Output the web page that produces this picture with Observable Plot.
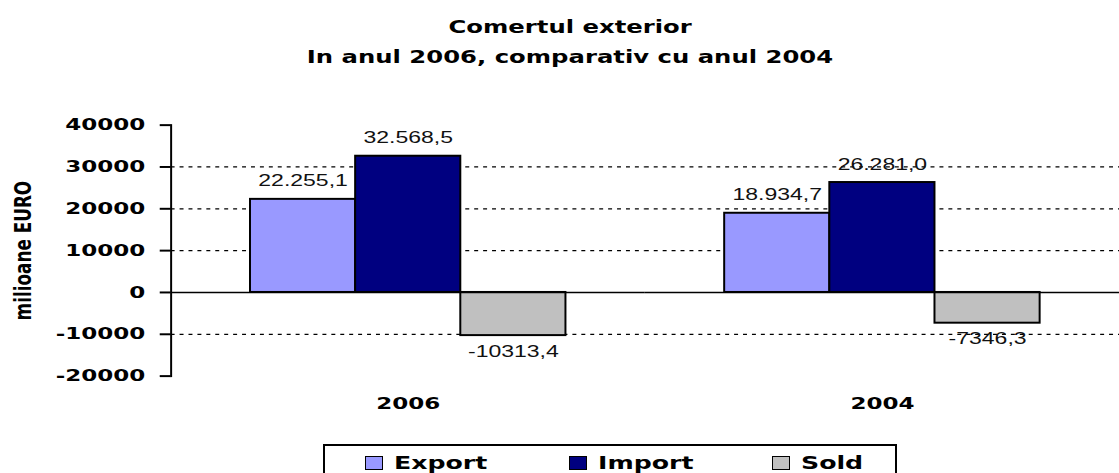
<!DOCTYPE html>
<html>
<head>
<meta charset="utf-8">
<script src="https://cdn.jsdelivr.net/npm/d3@7"></script>
<script src="https://cdn.jsdelivr.net/npm/@observablehq/plot@0.6"></script>
<style>
  html, body { margin: 0; padding: 0; background: #fff; width: 1119px; height: 473px; overflow: hidden; position: relative; }
  #title { position: absolute; left: 0; top: 12px; width: 1140px; text-align: center; font-family: "DejaVu Sans", sans-serif; font-weight: bold; font-size: 18px; line-height: 30px; color: #000; }
  #title span { display: inline-block; transform: scaleX(1.35); }
  #chart { position: absolute; left: 0; top: 80px; }
  #legend { position: absolute; left: 323px; top: 444px; width: 574px; height: 40px; border: 2px solid #000; box-sizing: border-box; }
  .item { position: absolute; top: 8px; display: flex; align-items: center; }
  .sw { width: 16px; height: 12px; border: 1px solid #000; box-sizing: content-box; }
  .lt { display: inline-block; margin-left: 11px; font-family: "DejaVu Sans", sans-serif; font-weight: bold; font-size: 18px; line-height: 18px; transform: scaleX(1.4); transform-origin: left center; }
</style>
</head>
<body>
<div id="title"><span>Comertul exterior</span><br><span>In anul 2006, comparativ cu anul 2004</span></div>
<div id="chart"></div>
<div id="legend"></div>
<script>
const years = ["2006", "2004"];
const series = ["Export", "Import", "Sold"];
const colors = ["#9999ff", "#000080", "#c0c0c0"];
const exportValues = [22255.1, 18934.7];
const importValues = [32568.5, 26281.0];
const soldValues = [-10313.4, -7346.3];
const exportLabels = ["22.255,1", "18.934,7"];
const importLabels = ["32.568,5", "26.281,0"];
const soldLabels = ["-10313,4", "-7346,3"];
const yTicks = [-20000, -10000, 0, 10000, 20000, 30000, 40000];
const yTickLabels = ["-20000", "-10000", "0", "10000", "20000", "30000", "40000"];
const gridValues = [-10000, 10000, 20000, 30000];
const yTitle = "milioane EURO";

const valuesBySeries = [exportValues, importValues, soldValues];
const labelsBySeries = [exportLabels, importLabels, soldLabels];
const data = [];
years.forEach((yr, yi) => series.forEach((s, si) => {
  data.push({year: yr, series: s, value: valuesBySeries[si][yi], label: labelsBySeries[si][yi]});
}));

const heavy = "DejaVu Sans, sans-serif";
const plot = Plot.plot({
  width: 1128,
  height: 350,
  marginLeft: 171,
  marginRight: 0,
  marginTop: 45,
  marginBottom: 52,
  style: {fontFamily: heavy, overflow: "visible", background: "transparent"},
  fx: {domain: years, paddingInner: 0, paddingOuter: 0, axis: null},
  x: {domain: series, paddingInner: 0, paddingOuter: 0.75, axis: null},
  y: {domain: [-20000, 40000], axis: null},
  color: {domain: series, range: colors},
  marks: [
    Plot.ruleY(gridValues, {stroke: "#000", strokeWidth: 1.2, strokeDasharray: "4,5"}),
    Plot.barY(data, {fx: "year", x: "series", y: "value", fill: "series", stroke: "#000", strokeWidth: 2}),
    Plot.ruleY([0], {stroke: "#000", strokeWidth: 1.5}),
    Plot.text(data.filter(d => d.value >= 0), {fx: "year", x: "series", y: "value", text: "label", lineAnchor: "bottom", dy: -13, fontFamily: "Liberation Sans, Arial, sans-serif", fontSize: 16, fill: "#111"}),
    Plot.text(data.filter(d => d.value < 0), {fx: "year", x: "series", y: "value", text: "label", lineAnchor: "top", dy: 10, fontFamily: "Liberation Sans, Arial, sans-serif", fontSize: 16, fill: "#111"}),
    Plot.frame({anchor: "left", facetAnchor: "left", stroke: "#000", strokeWidth: 2}),
    Plot.axisY({ticks: yTicks, tickSize: 11, tickPadding: 15, strokeWidth: 2, tickFormat: d => yTickLabels[yTicks.indexOf(d)], fontSize: 16, fontWeight: "bold", fill: "#000", label: yTitle, labelAnchor: "center", labelOffset: 158, labelArrow: "none"}),
    Plot.axisFx({anchor: "bottom", tickSize: 0, tickPadding: 22, fontSize: 16, fontWeight: "bold", fill: "#000", label: null})
  ]
});

// emulate the horizontally stretched lettering of the original
function num(v) { return v != null && !/em/.test(v) ? (parseFloat(v) || 0) : 0; }
plot.querySelectorAll("text").forEach(t => {
  const tr = t.getAttribute("transform") || "";
  const rot = /rotate\(/.test(tr);
  const X = num(t.getAttribute("x")), Y = num(t.getAttribute("y"));
  const s = rot
    ? `translate(0,${Y}) scale(1,1.4) translate(0,${-Y})`
    : `translate(${X},0) scale(1.45,1) translate(${-X},0)`;
  t.setAttribute("transform", (tr + " " + s).trim());
});
plot.querySelectorAll('g[aria-label="y-axis label"] text').forEach(t => {
  t.setAttribute("font-weight", "bold");
  t.setAttribute("font-size", 17);
  t.setAttribute("fill", "#000");
});
document.getElementById("chart").appendChild(plot);

const legend = document.getElementById("legend");
const offsets = [40, 244, 447];
series.forEach((s, i) => {
  const item = document.createElement("div");
  item.className = "item";
  item.style.left = offsets[i] + "px";
  const sw = document.createElement("div");
  sw.className = "sw";
  sw.style.background = colors[i];
  const lt = document.createElement("span");
  lt.className = "lt";
  lt.textContent = s;
  item.appendChild(sw);
  item.appendChild(lt);
  legend.appendChild(item);
});
</script>
</body>
</html>
